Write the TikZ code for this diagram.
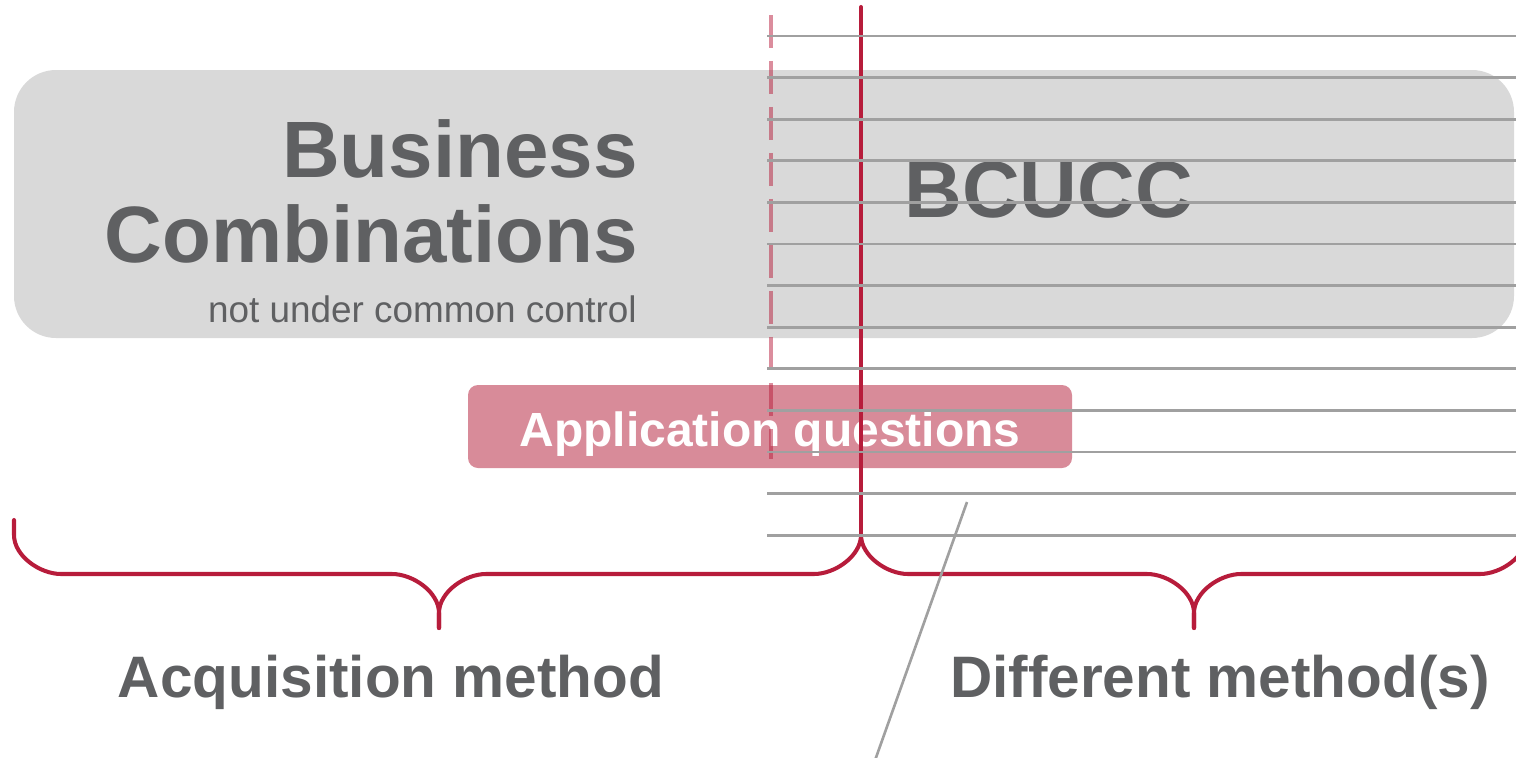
\documentclass[tikz,border=0pt]{standalone}
\usepackage{fontspec}
\setmainfont{Liberation Sans}
\usepackage{xcolor}
\usepackage{tikz}
\usetikzlibrary{calc}
\definecolor{BoxGray}{HTML}{D9D9D9}
\definecolor{TextGray}{HTML}{5F6062}
\definecolor{RuleGray}{HTML}{A0A0A0}
\definecolor{KRed}{HTML}{B71C3B}
\definecolor{KPink}{HTML}{D88B99}
\tikzstyle{title} = [text=TextGray, inner sep=0pt, font=\fontsize{45.5}{50}\selectfont\bfseries]
\tikzstyle{subtitle} = [text=TextGray, inner sep=0pt, font=\fontsize{21}{24}\selectfont]
\tikzstyle{label} = [text=TextGray, inner sep=0pt, font=\fontsize{33.3}{38}\selectfont\bfseries]
\tikzstyle{question} = [text=white, inner sep=0pt, font=\fontsize{27.3}{30}\selectfont\bfseries]
\tikzstyle{rule} = [RuleGray, line width=1.5pt]
\tikzstyle{brace} = [KRed, line width=2.3pt, line cap=round]

\begin{document}
\begin{tikzpicture}[x=0.02cm, y=-0.02cm]
	\useasboundingbox (0, 0) rectangle (1516, 758) ;
	\clip (0, 0) rectangle (1516, 758) ;
	
	\fill[BoxGray, rounded corners=0.84cm] (14, 70) rectangle (1514, 338) ;
	\node[title, anchor=base east] (business) at (638, 177) {Business} ;
	\node[title, anchor=base east] (combinations) at (638, 262) {Combinations} ;
	\node[subtitle, anchor=base east] (notcommon) at (637, 322) {not under common control} ;
	\node[title, anchor=base west] (bcucc) at (904, 217) {BCUCC} ;
	
	\fill[KPink, rounded corners=0.2cm] (468, 385) rectangle (1072, 468) ;
	\node[question, anchor=base] (application) at (770, 446) {Application questions} ;
	
	\draw[KRed, draw opacity=0.5, line width=2.3pt, dash pattern=on 0.66cm off 0.26cm] (771, 15) -- (771, 459) ;
	
	\coordinate (top) at (861, 7) ;
	\coordinate (cusp) at (861, 535) ;
	\coordinate (leftend) at (14, 520) ;
	\coordinate (righttop) at (1527, 520) ;
	\coordinate (lefttip) at (439, 628) ;
	\coordinate (righttip) at (1194, 628) ;
	\draw[brace] (top) -- (cusp) ;
	
	\draw[brace] (leftend) -- ++(0, 15) .. controls ++(0, 21) and ++(-21, 0) .. ++(47, 39) -- ($(lefttip) + (-47, -54)$) .. controls ++(21, 0) and ++(0, -21) .. ($(lefttip) + (0, -15)$) -- (lefttip) ;
	\draw[brace] (lefttip) -- ++(0, -15) .. controls ++(0, -21) and ++(-21, 0) .. ++(47, -39) -- ($(cusp) + (-47, 39)$) .. controls ++(21, 0) and ++(0, 21) .. (cusp) ;
	\draw[brace] (cusp) .. controls ++(0, 21) and ++(-21, 0) .. ++(47, 39) -- ($(righttip) + (-47, -54)$) .. controls ++(21, 0) and ++(0, -21) .. ($(righttip) + (0, -15)$) -- (righttip) ;
	\draw[brace] (righttip) -- ++(0, -15) .. controls ++(0, -21) and ++(-21, 0) .. ++(47, -39) -- ($(righttop) + (-47, 54)$) .. controls ++(21, 0) and ++(0, 21) .. ($(righttop) + (0, 15)$) -- (righttop) ;
	
	\foreach \n in {0, 1, ..., 12}
	{
		\draw[rule] (767, {36 + \n*41.6}) -- (1520, {36 + \n*41.6}) ;
	}
	
	\coordinate (slanttop) at (967, 502) ;
	\coordinate (slantfoot) at (873, 766) ;
	\draw[rule] (slanttop) -- (slantfoot) ;
	
	\node[label, anchor=base] (acquisition) at (391, 697) {Acquisition method} ;
	\node[label, anchor=base] (different) at (1220, 697) {Different method(s)} ;
\end{tikzpicture}
\end{document}
